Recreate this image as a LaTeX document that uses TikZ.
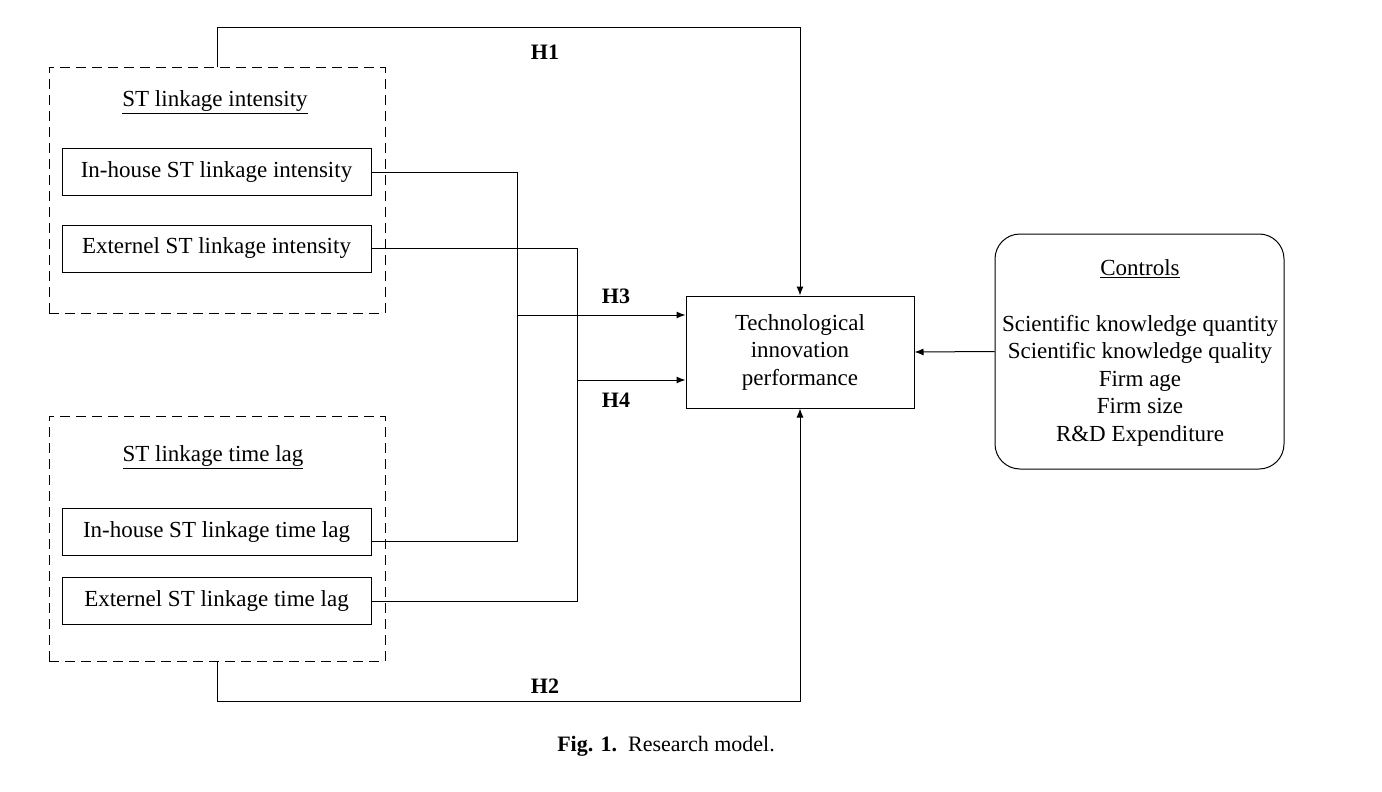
\documentclass[tikz,border=0pt]{standalone}
\usepackage{fontspec}
\setmainfont{Liberation Serif}
\usetikzlibrary{arrows.meta,positioning}
\begin{document}
\begin{tikzpicture}[x=1pt,y=-1pt,
  line width=1pt,
  every node/.style={font=\fontsize{23}{27.5}\selectfont, inner sep=0pt},
  item/.style={draw, minimum width=309pt, minimum height=47pt},
  grp/.style={draw, dashed, dash pattern=on 10pt off 6pt},
  hlab/.style={font=\fontsize{22}{26}\selectfont\bfseries},
  arr/.style={-{Latex[length=9pt,width=7pt]}}
]
\useasboundingbox (0,0) rectangle (1382,792);
% groups
\node[grp, minimum width=336pt, minimum height=245pt] (g1) at (217,190.5) {};
\node[grp, minimum width=336pt, minimum height=245pt] (g2) at (217,538.5) {};
\node (t1) at (215,102) {\underline{ST linkage intensity}};
\node (t2) at (213,457) {\underline{ST linkage time lag}};
% items
\node[item] (a) at (216.5,172) {In-house ST linkage intensity};
\node[item] (b) at (216.5,248.5) {Externel ST linkage intensity};
\node[item] (c) at (216.5,532) {In-house ST linkage time lag};
\node[item] (d) at (216.5,601) {Externel ST linkage time lag};
% outcome
\node[draw, minimum width=228pt, minimum height=112pt, align=center] (tip) at (800,352)
  {Technological\\innovation\\performance};
% controls
\node[draw, rounded corners=25pt, minimum width=289pt, minimum height=235pt] (ctl) at (1139.5,351.5) {};
\node[align=center] (ctlt) at (1140,353) {\underline{Controls}\\[28pt]Scientific knowledge quantity\\Scientific knowledge quality\\Firm age\\Firm size\\R\&D Expenditure};
% coordinates
\coordinate (j3) at (517,315);
\coordinate (j4) at (577,380);
% connectors
\draw (a.east) -- (517,172) -- (517,541) -- (c.east |- 0,541);
\draw (b.east) -- (577,248.5) -- (577,601) -- (d.east);
\draw[arr] (j3) -- (tip.west |- j3);
\draw[arr] (j4) -- (tip.west |- j4);
\draw[arr] (g1.north -| 217,0) -- (217,28) -- (800,28) -- (tip.north);
\draw[arr] (g2.south -| 217,0) -- (217,701) -- (800,701) -- (tip.south);
\draw[arr] (ctl.west) -- (tip.east);
% labels
\node[hlab] (h1) at (545,52) {H1};
\node[hlab] (h2) at (545,686) {H2};
\node[hlab] (h3) at (616,296) {H3};
\node[hlab] (h4) at (616,400) {H4};
% caption
\node[font=\fontsize{22}{26}\selectfont] (cap) at (666,746) {\textbf{Fig. 1.}\ \ Research model.};
\end{tikzpicture}
\end{document}
